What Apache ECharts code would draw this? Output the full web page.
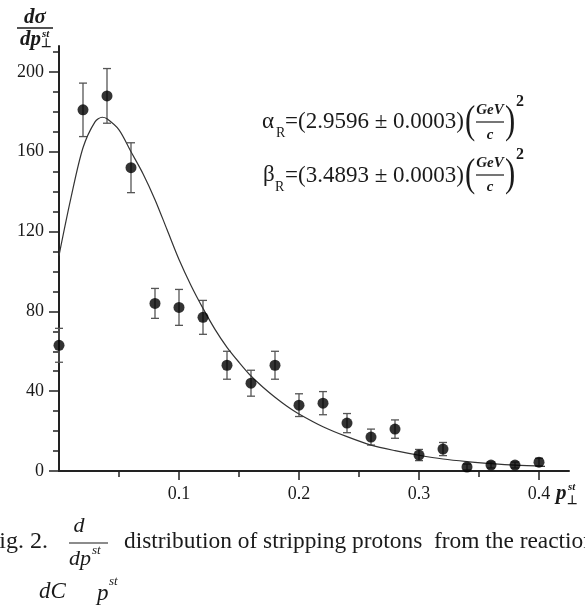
<!DOCTYPE html>
<html><head><meta charset="utf-8">
<script src="https://cdn.jsdelivr.net/npm/echarts@6/dist/echarts.min.js"></script>
<style>html,body{margin:0;padding:0;background:#fff}#chart{width:585px;height:610px}</style>
</head><body><div id="chart"></div>
<script>
// measured points
const pValues     = [0, 0.02, 0.04, 0.06, 0.08, 0.10, 0.12, 0.14, 0.16, 0.18, 0.20, 0.22, 0.24, 0.26, 0.28, 0.30, 0.32, 0.34, 0.36, 0.38, 0.40];
const sigmaValues = [63, 181, 188, 152, 84, 82, 77, 53, 44, 53, 33, 34, 24, 17, 21, 8, 11, 2, 3, 3, 4.4];
const sigmaErrors = [8.5, 13.4, 13.7, 12.5, 7.5, 9, 8.5, 7, 6.5, 7, 5.7, 5.8, 4.8, 4, 4.6, 2.8, 3.3, 1.5, 1.5, 1.5, 2];
// fitted curve
const fitP     = [0, 0.01, 0.02, 0.03, 0.036, 0.04, 0.05, 0.06, 0.07, 0.08, 0.09, 0.10, 0.11, 0.12, 0.13, 0.14, 0.15, 0.16, 0.17, 0.18, 0.19, 0.20, 0.22, 0.24, 0.26, 0.28, 0.30, 0.32, 0.34, 0.36, 0.38, 0.405];
const fitSigma = [108, 137, 162, 175, 177.3, 176.5, 171, 160, 149, 136, 121, 106, 93, 81.5, 71, 62, 54.5, 47.6, 42, 37, 32.5, 28.6, 22.2, 17.2, 13, 10.2, 7.9, 6, 4.7, 3.7, 2.9, 2.3];
// ticks
const xTickValues = [0.1, 0.2, 0.3, 0.4];
const xMinorTickValues = [0.05, 0.15, 0.25, 0.35];
const yTickValues = [0, 40, 80, 120, 160, 200];
const yMinorTickValues = [10, 20, 30, 50, 60, 70, 90, 100, 110, 130, 140, 150, 170, 180, 190, 210];

const serif = '"Liberation Serif","Times New Roman",serif';
const ink = '#1a1a1a';

function txt(text, x, y, font, align, extra) {
  align = align || 'left';
  return Object.assign({
    type: 'text', x: x, y: y, silent: true,
    style: { text: text, font: font, fill: ink, textAlign: align, align: align, textVerticalAlign: 'middle', verticalAlign: 'middle' }
  }, extra || {});
}
function hline(x1, x2, y, w) {
  return { type: 'line', silent: true, shape: { x1: x1, y1: y, x2: x2, y2: y }, style: { stroke: ink, lineWidth: w || 1.2 } };
}

const chart = echarts.init(document.getElementById('chart'), null, { renderer: 'canvas' });

const axisColor = '#222';
const option = {
  animation: false,
  backgroundColor: '#fff',
  grid: { left: 59, right: 16, top: 46, bottom: 139, containLabel: false, outerBoundsMode: 'none' },
  xAxis: [
    {
      type: 'value', min: 0, max: 0.425, position: 'bottom',
      axisLine: { show: true, onZero: false, lineStyle: { color: axisColor, width: 2 } },
      axisTick: { show: true, customValues: xTickValues, length: 9, lineStyle: { color: axisColor, width: 1.5 } },
      axisLabel: { show: true, customValues: xTickValues, formatter: function (v) { return (+v).toFixed(1); }, margin: 14, fontFamily: serif, fontSize: 18, color: ink },
      splitLine: { show: false }
    },
    {
      type: 'value', min: 0, max: 0.425, position: 'bottom',
      axisLine: { show: false },
      axisTick: { show: true, customValues: xMinorTickValues, length: 6, lineStyle: { color: axisColor, width: 1.5 } },
      axisLabel: { show: false },
      splitLine: { show: false }
    }
  ],
  yAxis: [
    {
      type: 'value', min: 0, max: 213, position: 'left',
      axisLine: { show: true, onZero: false, lineStyle: { color: axisColor, width: 2 } },
      axisTick: { show: true, customValues: yTickValues, length: 10, lineStyle: { color: axisColor, width: 1.5 } },
      axisLabel: { show: true, customValues: yTickValues, margin: 15, fontFamily: serif, fontSize: 18, color: ink },
      splitLine: { show: false }
    },
    {
      type: 'value', min: 0, max: 213, position: 'left',
      axisLine: { show: false },
      axisTick: { show: true, customValues: yMinorTickValues, length: 6, lineStyle: { color: axisColor, width: 1.5 } },
      axisLabel: { show: false },
      splitLine: { show: false }
    }
  ],
  series: [
    {
      type: 'custom', name: 'errors', xAxisIndex: 0, yAxisIndex: 0, clip: false, z: 2,
      data: pValues.map(function (p, i) { return [p, sigmaValues[i] - sigmaErrors[i], sigmaValues[i] + sigmaErrors[i]]; }),
      renderItem: function (params, api) {
        const lo = api.coord([api.value(0), api.value(1)]);
        const hi = api.coord([api.value(0), api.value(2)]);
        const hw = 4;
        const st = { stroke: '#555', lineWidth: 1.3 };
        return {
          type: 'group', children: [
            { type: 'line', shape: { x1: lo[0], y1: lo[1], x2: hi[0], y2: hi[1] }, style: st },
            { type: 'line', shape: { x1: lo[0] - hw, y1: lo[1], x2: lo[0] + hw, y2: lo[1] }, style: st },
            { type: 'line', shape: { x1: hi[0] - hw, y1: hi[1], x2: hi[0] + hw, y2: hi[1] }, style: st }
          ]
        };
      }
    },
    {
      type: 'line', name: 'fit', xAxisIndex: 0, yAxisIndex: 0, z: 3,
      data: fitP.map(function (p, i) { return [p, fitSigma[i]]; }),
      smooth: 0.3, showSymbol: false, symbol: 'none',
      lineStyle: { color: '#333', width: 1.2 }
    },
    {
      type: 'scatter', name: 'data', xAxisIndex: 0, yAxisIndex: 0, z: 4,
      data: pValues.map(function (p, i) { return [p, sigmaValues[i]]; }),
      symbol: 'circle', symbolSize: 11,
      itemStyle: { color: '#000' }
    }
  ],
  graphic: [
    // y axis name: dσ / dp⊥^st
    txt('dσ', 35, 18, 'italic bold 21px ' + serif, 'center'),
    hline(17, 53, 28, 1.5),
    txt('dp', 20, 40, 'italic bold 21px ' + serif),
    txt('st', 42, 34, 'italic bold 11px ' + serif),
    txt('⊥', 41, 44, 'bold 12px ' + serif),
    // x axis name: p⊥^st
    txt('p', 556, 494, 'italic bold 21px ' + serif),
    txt('st', 568, 487, 'italic bold 11px ' + serif),
    txt('⊥', 567, 501, 'bold 12px ' + serif),
    // alpha formula
    txt('α', 262, 122, '23px ' + serif),
    txt('R', 276, 133, '14px ' + serif),
    txt('=(2.9596 ± 0.0003)', 285, 122, '23px ' + serif),
    txt('(', 465, 122, '41px ' + serif, 'left', { scaleX: 0.75 }),
    txt('GeV', 490, 110, 'italic bold 15px ' + serif, 'center'),
    hline(476, 504, 122, 1.2),
    txt('c', 490, 135, 'italic bold 15px ' + serif, 'center'),
    txt(')', 505, 122, '41px ' + serif, 'left', { scaleX: 0.75 }),
    txt('2', 516, 102, 'bold 16px ' + serif),
    // beta formula
    txt('β', 263, 175, '23px ' + serif),
    txt('R', 275, 187, '14px ' + serif),
    txt('=(3.4893 ± 0.0003)', 285, 176, '23px ' + serif),
    txt('(', 465, 175, '41px ' + serif, 'left', { scaleX: 0.75 }),
    txt('GeV', 490, 163, 'italic bold 15px ' + serif, 'center'),
    hline(476, 504, 175, 1.2),
    txt('c', 490, 187, 'italic bold 15px ' + serif, 'center'),
    txt(')', 505, 175, '41px ' + serif, 'left', { scaleX: 0.75 }),
    txt('2', 516, 155, 'bold 16px ' + serif),
    // caption
    txt('Fig. 2.', -14, 542, '24px ' + serif),
    txt('d', 79, 526, 'italic 22px ' + serif, 'center'),
    hline(69, 108, 543, 1.2),
    txt('dp', 69, 559, 'italic 22px ' + serif),
    txt('st', 92, 551, 'italic 13px ' + serif),
    txt('distribution of stripping protons  from the reaction', 124, 542, '23.4px ' + serif),
    txt('dC', 39, 592, 'italic 23px ' + serif),
    txt('p', 97, 594, 'italic 23px ' + serif),
    txt('st', 109, 582, 'italic 13px ' + serif)
  ]
};
chart.setOption(option);
</script></body></html>
